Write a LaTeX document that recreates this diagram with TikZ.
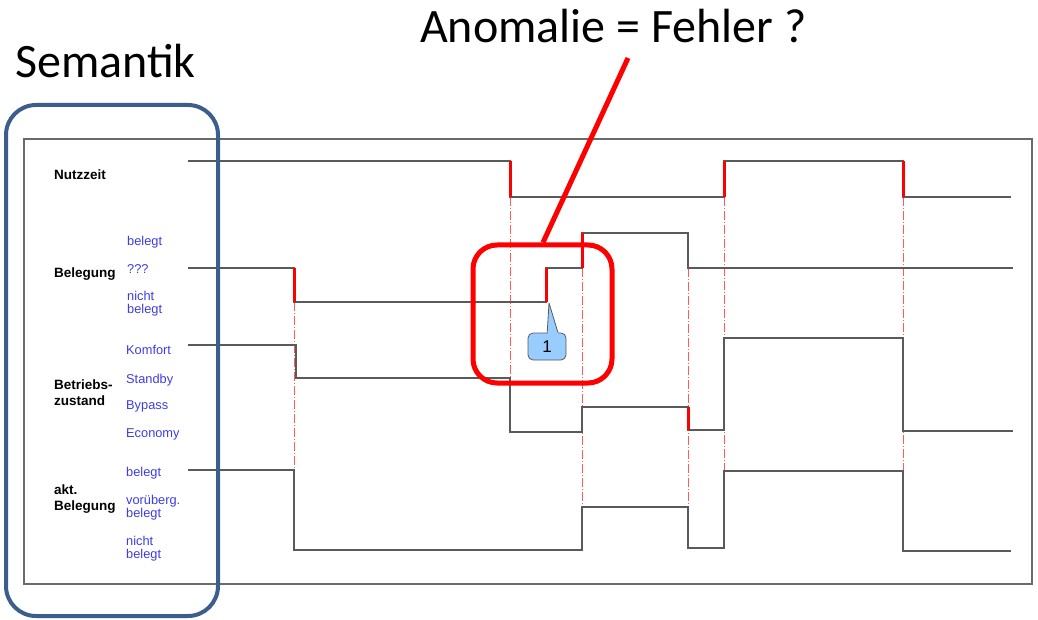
\documentclass[tikz,border=0pt]{standalone}
\usepackage{fontspec}
\setmainfont{Liberation Sans}
\newfontfamily\slidefont{Carlito}
\begin{document}
\begin{tikzpicture}[x=1pt,y=-1pt,
  siglabel/.style={anchor=base west,inner sep=0pt,font=\fontsize{13.5}{15}\selectfont\bfseries},
  lvllabel/.style={anchor=base west,inner sep=0pt,text=lvlblue,font=\fontsize{12.8}{14}\selectfont},
  headline/.style={anchor=base west,inner sep=0pt,font=\slidefont\fontsize{48}{56}\selectfont},
  signal/.style={draw=sigcol,line width=1.4pt},
  edge/.style={draw=red,line width=3pt},
  guide/.style={draw=guidered,line width=0.9pt,dash pattern=on 9pt off 2pt on 1pt off 2pt},
]
\definecolor{sigcol}{HTML}{5A5A5A}
\definecolor{framecol}{HTML}{6A6A6A}
\definecolor{lvlblue}{HTML}{3C3CE6}
\definecolor{semblue}{HTML}{3B5E8C}
\definecolor{guidered}{HTML}{FF5A5A}
\definecolor{notefill}{HTML}{99CCFF}
\useasboundingbox (0,0) rectangle (1038,620);

% headings
\node[headline] (sem) at (15,78) {Semantik};
\node[headline] (anom) at (420,43) {Anomalie = Fehler ?};

% chart frame
\draw[framecol,line width=1.3pt] (24,139) rectangle (1032,584);

% signal names
\node[siglabel] (nz) at (54,180) {Nutzzeit};
\node[siglabel] (bel) at (54,277) {Belegung};
\node[siglabel] (bz1) at (54,389) {Betriebs-};
\node[siglabel] (bz2) at (54,405) {zustand};
\node[siglabel] (ab1) at (54,494) {akt.};
\node[siglabel] (ab2) at (54,510) {Belegung};

% level names
\node[lvllabel] at (127,246) {belegt};
\node[lvllabel] at (127,273) {???};
\node[lvllabel] at (127,300) {nicht};
\node[lvllabel] at (127,313) {belegt};
\node[lvllabel] at (126,354) {Komfort};
\node[lvllabel] at (126,383) {Standby};
\node[lvllabel] at (126,409) {Bypass};
\node[lvllabel] at (126,437) {Economy};
\node[lvllabel] at (126,476) {belegt};
\node[lvllabel] at (126,504) {vorüberg.};
\node[lvllabel] at (126,517) {belegt};
\node[lvllabel] at (126,545) {nicht};
\node[lvllabel] at (126,558) {belegt};

% dash-dot guide lines at the switching instants
\draw[guide] (294,302) -- (294,470);
\draw[guide] (510,197) -- (510,378);
\draw[guide] (582,268) -- (582,507);
\draw[guide] (688,268) -- (688,506);
\draw[guide] (724,197) -- (724,471);
\draw[guide] (903,197) -- (903,471);

% signal traces
\draw[signal] (188,161) -| (510,197) -| (724,161) -| (903,197) -- (1011,197);
\draw[signal] (188,268) -| (294,302) -| (546,268) -| (582,233) -| (688,268) -- (1013,268);
\draw[signal] (188,345) -| (296,378) -| (510,432) -| (582,407) -| (688,430) -| (724,338) -| (903,431) -- (1013,431);
\draw[signal] (188,470) -| (294,550) -| (582,507) -| (688,548) -| (724,471) -| (903,551) -- (1011,551);

% highlighted edges
\draw[edge] (510,161) -- (510,197);
\draw[edge] (724,161) -- (724,197);
\draw[edge] (903,161) -- (903,197);
\draw[edge] (294,268) -- (294,302);
\draw[edge] (546,268) -- (546,302);
\draw[edge] (582,233) -- (582,268);
\draw[edge] (688,407) -- (688,430);

% note marker 1
\coordinate (notetip) at (549,303);
\filldraw[fill=notefill,draw=sigcol,line width=0.8pt,line join=round] (547,336) -- (notetip) -- (559,336) -- cycle;
\node[draw=sigcol,fill=notefill,line width=0.8pt,rounded corners=5pt,minimum width=38pt,minimum height=27pt,inner sep=0pt,font=\fontsize{17}{18}\selectfont] (note) at (547,346.5) {1};
\fill[notefill] (547.6,333.8) -- (549.2,320) -- (558.4,333.8) -- cycle;

% semantic bracket
\draw[semblue,line width=4pt,rounded corners=30pt] (6,105) rectangle (218,616);

% anomaly highlight and its pointer
\node[draw=red,line width=5pt,rounded corners=24pt,minimum width=139pt,minimum height=138pt,inner sep=0pt] (anobox) at (542.5,314) {};
\coordinate (hook) at (628,58);
\draw[red,line width=5pt] (anobox.north -| 543,0) -- (hook);
\end{tikzpicture}
\end{document}
